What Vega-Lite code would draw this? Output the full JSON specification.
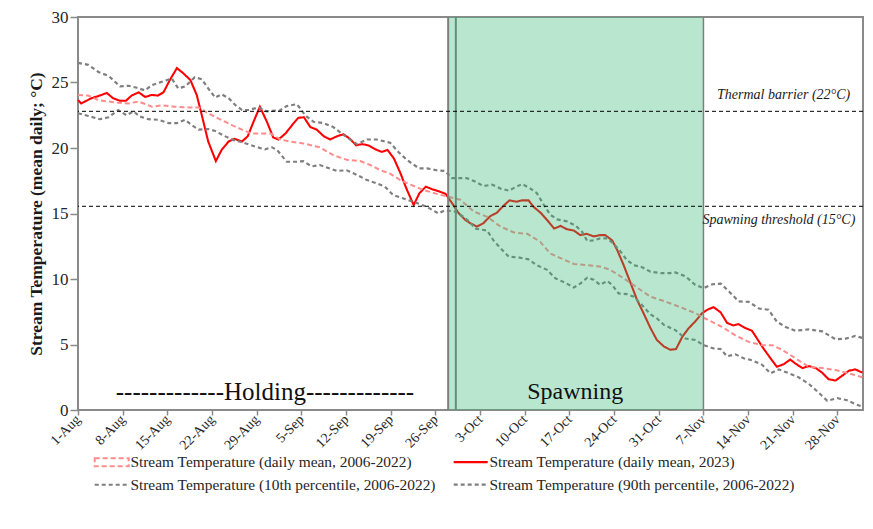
{
  "$schema": "https://vega.github.io/schema/vega-lite/v6.json",
  "width": 785,
  "height": 393,
  "autosize": {"type": "none"},
  "padding": {"left": 78, "top": 17, "right": 10, "bottom": 119},
  "background": "white",
  "config": {
    "font": "'Liberation Serif', 'Times New Roman', Times, serif",
    "view": {"stroke": "#8a8a8a", "strokeWidth": 2},
    "legend": {
      "orient": "none",
      "direction": "horizontal",
      "legendX": 26,
      "legendY": 437,
      "columns": 2,
      "columnPadding": 13,
      "rowPadding": 6,
      "labelFont": "'Liberation Serif', 'Times New Roman', Times, serif",
      "labelFontSize": 15.4,
      "labelColor": "#262626",
      "labelLimit": 400,
      "symbolSize": 100,
      "labelOffset": 11,
      "title": null
    }
  },
  "datasets": {
    "series": [
      {"s": "a", "d": 0, "t": 23.66}, {"s": "a", "d": 0.5, "t": 23.4}, {"s": "a", "d": 2.1, "t": 23.8}, {"s": "a", "d": 3.4, "t": 24.0}, {"s": "a", "d": 4.5, "t": 24.2}, {"s": "a", "d": 5.5, "t": 23.8}, {"s": "a", "d": 6.6, "t": 23.6}, {"s": "a", "d": 7.5, "t": 23.6}, {"s": "a", "d": 8.4, "t": 24.0}, {"s": "a", "d": 9.5, "t": 24.25}, {"s": "a", "d": 10.5, "t": 23.9}, {"s": "a", "d": 11.6, "t": 24.05}, {"s": "a", "d": 12.5, "t": 24.0}, {"s": "a", "d": 13.4, "t": 24.25}, {"s": "a", "d": 14.4, "t": 25.2}, {"s": "a", "d": 15.5, "t": 26.1}, {"s": "a", "d": 16.5, "t": 25.7}, {"s": "a", "d": 17.6, "t": 25.2}, {"s": "a", "d": 18.6, "t": 24.05}, {"s": "a", "d": 19.4, "t": 22.5}, {"s": "a", "d": 20.4, "t": 20.5}, {"s": "a", "d": 21.6, "t": 19.0}, {"s": "a", "d": 22.5, "t": 19.85}, {"s": "a", "d": 23.6, "t": 20.5}, {"s": "a", "d": 24.5, "t": 20.7}, {"s": "a", "d": 25.7, "t": 20.5}, {"s": "a", "d": 26.6, "t": 20.9}, {"s": "a", "d": 27.5, "t": 22.0}, {"s": "a", "d": 28.5, "t": 23.15}, {"s": "a", "d": 29.6, "t": 22.0}, {"s": "a", "d": 30.6, "t": 20.8}, {"s": "a", "d": 31.4, "t": 20.65}, {"s": "a", "d": 32.5, "t": 21.1}, {"s": "a", "d": 33.8, "t": 21.9}, {"s": "a", "d": 34.5, "t": 22.3}, {"s": "a", "d": 35.4, "t": 22.35}, {"s": "a", "d": 36.4, "t": 21.6}, {"s": "a", "d": 37.4, "t": 21.4}, {"s": "a", "d": 38.5, "t": 20.9}, {"s": "a", "d": 39.5, "t": 20.65}, {"s": "a", "d": 40.6, "t": 20.9}, {"s": "a", "d": 41.6, "t": 21.05}, {"s": "a", "d": 42.6, "t": 20.7}, {"s": "a", "d": 43.6, "t": 20.2}, {"s": "a", "d": 44.5, "t": 20.3}, {"s": "a", "d": 45.5, "t": 20.2}, {"s": "a", "d": 46.6, "t": 19.9}, {"s": "a", "d": 47.6, "t": 19.7}, {"s": "a", "d": 48.5, "t": 19.85}, {"s": "a", "d": 49.5, "t": 19.2}, {"s": "a", "d": 50.5, "t": 18.1}, {"s": "a", "d": 51.5, "t": 16.85}, {"s": "a", "d": 52.6, "t": 15.65}, {"s": "a", "d": 53.5, "t": 16.55}, {"s": "a", "d": 54.5, "t": 17.05}, {"s": "a", "d": 55.5, "t": 16.85}, {"s": "a", "d": 56.5, "t": 16.7}, {"s": "a", "d": 57.6, "t": 16.5}, {"s": "a", "d": 58.6, "t": 15.8}, {"s": "a", "d": 59.6, "t": 15.05}, {"s": "a", "d": 60.7, "t": 14.5}, {"s": "a", "d": 61.5, "t": 14.25}, {"s": "a", "d": 62.5, "t": 14.0}, {"s": "a", "d": 63.5, "t": 14.25}, {"s": "a", "d": 64.6, "t": 14.8}, {"s": "a", "d": 65.6, "t": 15.05}, {"s": "a", "d": 66.7, "t": 15.6}, {"s": "a", "d": 67.6, "t": 16.0}, {"s": "a", "d": 68.7, "t": 15.9}, {"s": "a", "d": 69.6, "t": 16.0}, {"s": "a", "d": 70.6, "t": 16.0}, {"s": "a", "d": 71.4, "t": 15.5}, {"s": "a", "d": 72.5, "t": 15.05}, {"s": "a", "d": 73.6, "t": 14.45}, {"s": "a", "d": 74.6, "t": 13.85}, {"s": "a", "d": 75.6, "t": 14.05}, {"s": "a", "d": 76.6, "t": 13.8}, {"s": "a", "d": 77.7, "t": 13.7}, {"s": "a", "d": 78.7, "t": 13.35}, {"s": "a", "d": 79.7, "t": 13.45}, {"s": "a", "d": 80.8, "t": 13.25}, {"s": "a", "d": 81.8, "t": 13.35}, {"s": "a", "d": 82.6, "t": 13.35}, {"s": "a", "d": 83.7, "t": 12.95}, {"s": "a", "d": 84.5, "t": 12.2}, {"s": "a", "d": 85.5, "t": 11.05}, {"s": "a", "d": 86.5, "t": 9.8}, {"s": "a", "d": 87.6, "t": 8.4}, {"s": "a", "d": 88.6, "t": 7.4}, {"s": "a", "d": 89.7, "t": 6.25}, {"s": "a", "d": 90.7, "t": 5.35}, {"s": "a", "d": 91.8, "t": 4.85}, {"s": "a", "d": 92.8, "t": 4.6}, {"s": "a", "d": 93.7, "t": 4.65}, {"s": "a", "d": 94.7, "t": 5.6}, {"s": "a", "d": 95.7, "t": 6.25}, {"s": "a", "d": 96.7, "t": 6.75}, {"s": "a", "d": 97.8, "t": 7.4}, {"s": "a", "d": 98.8, "t": 7.7}, {"s": "a", "d": 99.6, "t": 7.85}, {"s": "a", "d": 100.7, "t": 7.45}, {"s": "a", "d": 101.7, "t": 6.65}, {"s": "a", "d": 102.7, "t": 6.45}, {"s": "a", "d": 103.5, "t": 6.55}, {"s": "a", "d": 104.6, "t": 6.25}, {"s": "a", "d": 105.6, "t": 6.05}, {"s": "a", "d": 106.4, "t": 5.45}, {"s": "a", "d": 107.4, "t": 4.7}, {"s": "a", "d": 108.5, "t": 3.95}, {"s": "a", "d": 109.5, "t": 3.3}, {"s": "a", "d": 110.6, "t": 3.5}, {"s": "a", "d": 111.6, "t": 3.85}, {"s": "a", "d": 112.4, "t": 3.55}, {"s": "a", "d": 113.5, "t": 3.2}, {"s": "a", "d": 114.5, "t": 3.35}, {"s": "a", "d": 115.6, "t": 3.2}, {"s": "a", "d": 116.6, "t": 2.85}, {"s": "a", "d": 117.6, "t": 2.35}, {"s": "a", "d": 118.7, "t": 2.25}, {"s": "a", "d": 119.7, "t": 2.6}, {"s": "a", "d": 120.8, "t": 3.0}, {"s": "a", "d": 121.8, "t": 3.1}, {"s": "a", "d": 122.9, "t": 2.85},

      {"s": "m", "d": 0, "t": 24.05}, {"s": "m", "d": 1.6, "t": 24.0}, {"s": "m", "d": 3.2, "t": 23.65}, {"s": "m", "d": 4.8, "t": 23.55}, {"s": "m", "d": 6.3, "t": 23.45}, {"s": "m", "d": 7.9, "t": 23.4}, {"s": "m", "d": 9.5, "t": 23.55}, {"s": "m", "d": 11.6, "t": 23.15}, {"s": "m", "d": 13.1, "t": 23.25}, {"s": "m", "d": 15.2, "t": 23.15}, {"s": "m", "d": 17.3, "t": 23.1}, {"s": "m", "d": 18.9, "t": 23.1}, {"s": "m", "d": 20.4, "t": 22.65}, {"s": "m", "d": 22.0, "t": 22.25}, {"s": "m", "d": 24.1, "t": 21.75}, {"s": "m", "d": 25.7, "t": 21.4}, {"s": "m", "d": 27.2, "t": 21.1}, {"s": "m", "d": 28.8, "t": 21.1}, {"s": "m", "d": 30.2, "t": 21.1}, {"s": "m", "d": 31.7, "t": 20.65}, {"s": "m", "d": 33.2, "t": 20.5}, {"s": "m", "d": 35.3, "t": 20.35}, {"s": "m", "d": 37.9, "t": 20.05}, {"s": "m", "d": 40.0, "t": 19.45}, {"s": "m", "d": 42.1, "t": 19.1}, {"s": "m", "d": 44.2, "t": 19.0}, {"s": "m", "d": 45.8, "t": 18.7}, {"s": "m", "d": 47.4, "t": 18.3}, {"s": "m", "d": 48.9, "t": 18.05}, {"s": "m", "d": 50.5, "t": 17.55}, {"s": "m", "d": 52.1, "t": 17.2}, {"s": "m", "d": 54.1, "t": 16.8}, {"s": "m", "d": 56.2, "t": 16.5}, {"s": "m", "d": 57.8, "t": 16.3}, {"s": "m", "d": 59.9, "t": 16.05}, {"s": "m", "d": 62.0, "t": 15.15}, {"s": "m", "d": 64.1, "t": 14.75}, {"s": "m", "d": 66.2, "t": 14.0}, {"s": "m", "d": 68.3, "t": 13.55}, {"s": "m", "d": 70.4, "t": 13.45}, {"s": "m", "d": 72.4, "t": 12.85}, {"s": "m", "d": 74.0, "t": 11.95}, {"s": "m", "d": 75.6, "t": 11.6}, {"s": "m", "d": 77.7, "t": 11.15}, {"s": "m", "d": 79.8, "t": 11.05}, {"s": "m", "d": 81.8, "t": 10.95}, {"s": "m", "d": 83.4, "t": 10.7}, {"s": "m", "d": 85.5, "t": 10.05}, {"s": "m", "d": 87.6, "t": 9.35}, {"s": "m", "d": 89.7, "t": 8.65}, {"s": "m", "d": 91.3, "t": 8.4}, {"s": "m", "d": 93.6, "t": 8.0}, {"s": "m", "d": 96.7, "t": 7.4}, {"s": "m", "d": 98.8, "t": 6.85}, {"s": "m", "d": 100.9, "t": 6.35}, {"s": "m", "d": 103.0, "t": 5.7}, {"s": "m", "d": 105.1, "t": 5.2}, {"s": "m", "d": 107.2, "t": 4.95}, {"s": "m", "d": 108.8, "t": 4.95}, {"s": "m", "d": 110.3, "t": 4.6}, {"s": "m", "d": 112.4, "t": 3.95}, {"s": "m", "d": 114.5, "t": 3.3}, {"s": "m", "d": 116.6, "t": 3.2}, {"s": "m", "d": 118.7, "t": 3.05}, {"s": "m", "d": 120.8, "t": 2.8}, {"s": "m", "d": 122.9, "t": 2.5},

      {"s": "l", "d": 0, "t": 22.65}, {"s": "l", "d": 1.6, "t": 22.45}, {"s": "l", "d": 3.4, "t": 22.2}, {"s": "l", "d": 4.8, "t": 22.35}, {"s": "l", "d": 6.3, "t": 22.9}, {"s": "l", "d": 7.6, "t": 22.5}, {"s": "l", "d": 8.7, "t": 22.8}, {"s": "l", "d": 9.7, "t": 22.4}, {"s": "l", "d": 11.0, "t": 22.2}, {"s": "l", "d": 12.6, "t": 22.15}, {"s": "l", "d": 14.2, "t": 21.9}, {"s": "l", "d": 15.5, "t": 21.9}, {"s": "l", "d": 16.8, "t": 22.15}, {"s": "l", "d": 17.8, "t": 21.75}, {"s": "l", "d": 18.9, "t": 21.4}, {"s": "l", "d": 20.4, "t": 21.45}, {"s": "l", "d": 21.5, "t": 21.3}, {"s": "l", "d": 22.8, "t": 20.95}, {"s": "l", "d": 24.4, "t": 20.6}, {"s": "l", "d": 25.7, "t": 20.45}, {"s": "l", "d": 27.8, "t": 20.1}, {"s": "l", "d": 29.3, "t": 19.9}, {"s": "l", "d": 30.4, "t": 20.05}, {"s": "l", "d": 31.2, "t": 19.85}, {"s": "l", "d": 32.7, "t": 18.95}, {"s": "l", "d": 34.3, "t": 18.95}, {"s": "l", "d": 35.3, "t": 19.0}, {"s": "l", "d": 36.6, "t": 18.6}, {"s": "l", "d": 37.9, "t": 18.7}, {"s": "l", "d": 40.6, "t": 18.25}, {"s": "l", "d": 42.1, "t": 18.3}, {"s": "l", "d": 43.7, "t": 17.95}, {"s": "l", "d": 45.3, "t": 17.55}, {"s": "l", "d": 46.8, "t": 17.3}, {"s": "l", "d": 48.1, "t": 17.05}, {"s": "l", "d": 49.4, "t": 16.4}, {"s": "l", "d": 51.0, "t": 16.15}, {"s": "l", "d": 53.1, "t": 15.8}, {"s": "l", "d": 54.7, "t": 15.5}, {"s": "l", "d": 56.5, "t": 15.0}, {"s": "l", "d": 57.5, "t": 15.25}, {"s": "l", "d": 59.1, "t": 15.15}, {"s": "l", "d": 60.4, "t": 14.75}, {"s": "l", "d": 61.5, "t": 14.3}, {"s": "l", "d": 62.2, "t": 13.85}, {"s": "l", "d": 64.1, "t": 13.7}, {"s": "l", "d": 65.1, "t": 12.95}, {"s": "l", "d": 66.2, "t": 12.35}, {"s": "l", "d": 67.5, "t": 11.7}, {"s": "l", "d": 69.0, "t": 11.65}, {"s": "l", "d": 70.6, "t": 11.5}, {"s": "l", "d": 71.9, "t": 11.05}, {"s": "l", "d": 73.5, "t": 10.7}, {"s": "l", "d": 74.8, "t": 10.05}, {"s": "l", "d": 76.4, "t": 9.7}, {"s": "l", "d": 77.7, "t": 9.35}, {"s": "l", "d": 78.7, "t": 9.65}, {"s": "l", "d": 79.8, "t": 10.1}, {"s": "l", "d": 80.8, "t": 9.95}, {"s": "l", "d": 81.8, "t": 9.55}, {"s": "l", "d": 82.9, "t": 9.85}, {"s": "l", "d": 83.7, "t": 9.55}, {"s": "l", "d": 84.7, "t": 8.9}, {"s": "l", "d": 86.0, "t": 8.85}, {"s": "l", "d": 87.1, "t": 8.65}, {"s": "l", "d": 88.4, "t": 8.0}, {"s": "l", "d": 89.7, "t": 7.3}, {"s": "l", "d": 90.7, "t": 7.0}, {"s": "l", "d": 91.8, "t": 6.5}, {"s": "l", "d": 93.6, "t": 6.1}, {"s": "l", "d": 95.2, "t": 5.45}, {"s": "l", "d": 96.7, "t": 5.35}, {"s": "l", "d": 98.0, "t": 4.95}, {"s": "l", "d": 99.6, "t": 4.7}, {"s": "l", "d": 100.7, "t": 4.65}, {"s": "l", "d": 101.7, "t": 4.1}, {"s": "l", "d": 103.0, "t": 4.25}, {"s": "l", "d": 104.3, "t": 3.95}, {"s": "l", "d": 105.6, "t": 3.8}, {"s": "l", "d": 107.2, "t": 3.45}, {"s": "l", "d": 108.5, "t": 2.8}, {"s": "l", "d": 109.8, "t": 3.1}, {"s": "l", "d": 111.4, "t": 2.8}, {"s": "l", "d": 112.9, "t": 2.5}, {"s": "l", "d": 114.5, "t": 2.0}, {"s": "l", "d": 116.1, "t": 1.3}, {"s": "l", "d": 117.4, "t": 0.7}, {"s": "l", "d": 119.0, "t": 0.9}, {"s": "l", "d": 120.5, "t": 0.75}, {"s": "l", "d": 121.8, "t": 0.45}, {"s": "l", "d": 122.9, "t": 0.25},

      {"s": "h", "d": 0, "t": 26.5}, {"s": "h", "d": 1.6, "t": 26.35}, {"s": "h", "d": 3.2, "t": 25.8}, {"s": "h", "d": 4.8, "t": 25.5}, {"s": "h", "d": 6.6, "t": 24.7}, {"s": "h", "d": 7.9, "t": 24.75}, {"s": "h", "d": 9.2, "t": 24.6}, {"s": "h", "d": 10.5, "t": 24.4}, {"s": "h", "d": 11.6, "t": 24.8}, {"s": "h", "d": 13.1, "t": 25.05}, {"s": "h", "d": 14.7, "t": 25.3}, {"s": "h", "d": 15.7, "t": 24.55}, {"s": "h", "d": 16.8, "t": 24.7}, {"s": "h", "d": 18.3, "t": 25.4}, {"s": "h", "d": 19.4, "t": 25.25}, {"s": "h", "d": 20.4, "t": 24.55}, {"s": "h", "d": 21.5, "t": 23.85}, {"s": "h", "d": 22.5, "t": 24.1}, {"s": "h", "d": 23.6, "t": 23.8}, {"s": "h", "d": 24.6, "t": 23.3}, {"s": "h", "d": 25.7, "t": 22.9}, {"s": "h", "d": 26.7, "t": 22.9}, {"s": "h", "d": 28.3, "t": 23.1}, {"s": "h", "d": 29.6, "t": 22.8}, {"s": "h", "d": 30.9, "t": 22.85}, {"s": "h", "d": 31.4, "t": 22.8}, {"s": "h", "d": 32.7, "t": 23.2}, {"s": "h", "d": 34.3, "t": 23.35}, {"s": "h", "d": 35.6, "t": 22.5}, {"s": "h", "d": 36.9, "t": 22.0}, {"s": "h", "d": 38.5, "t": 21.9}, {"s": "h", "d": 40.0, "t": 21.6}, {"s": "h", "d": 41.6, "t": 21.0}, {"s": "h", "d": 43.7, "t": 20.3}, {"s": "h", "d": 45.3, "t": 20.65}, {"s": "h", "d": 46.8, "t": 20.65}, {"s": "h", "d": 48.9, "t": 20.4}, {"s": "h", "d": 50.2, "t": 19.7}, {"s": "h", "d": 51.5, "t": 19.1}, {"s": "h", "d": 53.4, "t": 18.45}, {"s": "h", "d": 54.7, "t": 18.45}, {"s": "h", "d": 56.2, "t": 18.3}, {"s": "h", "d": 57.5, "t": 18.25}, {"s": "h", "d": 58.6, "t": 17.7}, {"s": "h", "d": 60.9, "t": 17.7}, {"s": "h", "d": 62.2, "t": 17.45}, {"s": "h", "d": 63.5, "t": 17.1}, {"s": "h", "d": 64.9, "t": 17.2}, {"s": "h", "d": 66.2, "t": 16.9}, {"s": "h", "d": 67.5, "t": 16.75}, {"s": "h", "d": 68.5, "t": 17.0}, {"s": "h", "d": 69.6, "t": 17.25}, {"s": "h", "d": 70.9, "t": 16.9}, {"s": "h", "d": 71.9, "t": 16.55}, {"s": "h", "d": 73.0, "t": 15.65}, {"s": "h", "d": 74.0, "t": 14.9}, {"s": "h", "d": 75.1, "t": 14.55}, {"s": "h", "d": 76.6, "t": 14.4}, {"s": "h", "d": 77.9, "t": 14.1}, {"s": "h", "d": 79.0, "t": 13.6}, {"s": "h", "d": 79.8, "t": 12.9}, {"s": "h", "d": 80.8, "t": 12.95}, {"s": "h", "d": 81.8, "t": 13.1}, {"s": "h", "d": 82.9, "t": 13.1}, {"s": "h", "d": 83.9, "t": 12.7}, {"s": "h", "d": 85.0, "t": 12.1}, {"s": "h", "d": 86.0, "t": 11.45}, {"s": "h", "d": 87.1, "t": 11.05}, {"s": "h", "d": 88.4, "t": 10.9}, {"s": "h", "d": 89.7, "t": 10.55}, {"s": "h", "d": 91.3, "t": 10.45}, {"s": "h", "d": 92.8, "t": 10.45}, {"s": "h", "d": 93.6, "t": 10.5}, {"s": "h", "d": 95.2, "t": 10.2}, {"s": "h", "d": 96.7, "t": 9.55}, {"s": "h", "d": 98.0, "t": 9.3}, {"s": "h", "d": 99.4, "t": 9.6}, {"s": "h", "d": 100.7, "t": 9.65}, {"s": "h", "d": 102.0, "t": 9.05}, {"s": "h", "d": 103.5, "t": 8.3}, {"s": "h", "d": 105.1, "t": 8.25}, {"s": "h", "d": 106.7, "t": 7.75}, {"s": "h", "d": 108.2, "t": 7.65}, {"s": "h", "d": 109.5, "t": 6.75}, {"s": "h", "d": 110.8, "t": 6.35}, {"s": "h", "d": 112.4, "t": 6.05}, {"s": "h", "d": 114.5, "t": 6.15}, {"s": "h", "d": 116.6, "t": 6.0}, {"s": "h", "d": 118.7, "t": 5.4}, {"s": "h", "d": 120.3, "t": 5.45}, {"s": "h", "d": 121.8, "t": 5.65}, {"s": "h", "d": 122.9, "t": 5.5}
    ],
    "phases": [{"start": 58, "end": 98}],
    "labels": [
      {"d": 29.3, "t": 1.4, "label": "-------------Holding-------------", "size": 25},
      {"d": 77.9, "t": 1.4, "label": "Spawning", "size": 24}
    ],
    "notes": [
      {"d": 121.0, "t": 24.05, "label": "Thermal barrier (22°C)"},
      {"d": 121.8, "t": 14.5, "label": "Spawning threshold (15°C)"}
    ]
  },
  "layer": [
    {
      "data": {"name": "series"},
      "mark": {"type": "line", "strokeCap": "butt"},
      "encoding": {
        "x": {
          "field": "d", "type": "quantitative",
          "scale": {"domain": [0, 123], "nice": false, "zero": false},
          "axis": {
            "title": null, "grid": false, "domain": false,
            "values": [0, 7, 14, 21, 28, 35, 42, 49, 56, 63, 70, 77, 84, 91, 98, 105, 112, 119],
            "labelExpr": "timeFormat(datetime(2023, 7, 1 + datum.value), '%-d-%b')",
            "labelAngle": -45, "labelAlign": "right", "labelBaseline": "middle",
            "labelFontSize": 14, "labelColor": "#262626",
            "labelPadding": 2, "labelOverlap": false,
            "tickColor": "#8a8a8a", "tickSize": 5, "tickWidth": 1.5
          }
        },
        "y": {
          "field": "t", "type": "quantitative",
          "scale": {"domain": [0, 30], "nice": false},
          "axis": {
            "title": "Stream Temperature (mean daily; °C)",
            "titleFontSize": 17.5, "titleFontWeight": "bold", "titleColor": "#1a1a1a",
            "titlePadding": 6,
            "grid": false, "domain": false,
            "values": [0, 5, 10, 15, 20, 25, 30],
            "labelFontSize": 17, "labelColor": "#262626", "labelPadding": 2,
            "tickColor": "#8a8a8a", "tickSize": 8, "tickWidth": 1.5
          }
        },
        "detail": {"field": "s"},
        "color": {
          "field": "s", "type": "nominal",
          "scale": {"domain": ["m", "a", "l", "h"], "range": ["#ff8c8c", "#ff0000", "#7f7f7f", "#7f7f7f"]},
          "legend": {
            "labelExpr": "{'m': 'Stream Temperature (daily mean, 2006-2022)', 'a': 'Stream Temperature (daily mean, 2023)', 'l': 'Stream Temperature (10th percentile, 2006-2022)', 'h': 'Stream Temperature (90th percentile, 2006-2022)'}[datum.value]",
            "encode": {"symbols": {"update": {"shape": {"signal": "datum.value === 'm' ? 'M-3.4,-0.8H3.4V0.8H-3.4Z' : 'M-3.4,0H3.4'"}}}}
          }
        },
        "strokeDash": {
          "field": "s", "type": "nominal",
          "scale": {"domain": ["m", "a", "l", "h"], "range": [[5, 3], [1, 0], [4, 3], [4, 3]]},
          "legend": {
            "labelExpr": "{'m': 'Stream Temperature (daily mean, 2006-2022)', 'a': 'Stream Temperature (daily mean, 2023)', 'l': 'Stream Temperature (10th percentile, 2006-2022)', 'h': 'Stream Temperature (90th percentile, 2006-2022)'}[datum.value]",
            "encode": {"symbols": {"update": {"shape": {"signal": "datum.value === 'm' ? 'M-3.4,-0.8H3.4V0.8H-3.4Z' : 'M-3.4,0H3.4'"}}}}
          }
        },
        "strokeWidth": {
          "field": "s", "type": "nominal",
          "scale": {"domain": ["m", "a", "l", "h"], "range": [2, 2.2, 1.6, 1.6]},
          "legend": {
            "labelExpr": "{'m': 'Stream Temperature (daily mean, 2006-2022)', 'a': 'Stream Temperature (daily mean, 2023)', 'l': 'Stream Temperature (10th percentile, 2006-2022)', 'h': 'Stream Temperature (90th percentile, 2006-2022)'}[datum.value]",
            "encode": {"symbols": {"update": {"shape": {"signal": "datum.value === 'm' ? 'M-3.4,-0.8H3.4V0.8H-3.4Z' : 'M-3.4,0H3.4'"}}}}
          }
        }
      }
    },
    {
      "data": {"name": "phases"},
      "mark": {"type": "rule", "color": "#7a7a7a", "strokeWidth": 2},
      "encoding": {"x": {"datum": 59.2}}
    },
    {
      "data": {"name": "phases"},
      "mark": {"type": "rect", "color": "#34b876", "opacity": 0.35},
      "encoding": {
        "x": {"field": "start", "type": "quantitative"},
        "x2": {"field": "end"},
        "y": {"datum": 30},
        "y2": {"datum": 0}
      }
    },
    {
      "data": {"name": "phases"},
      "mark": {"type": "rule", "color": "#7f7f7f", "strokeWidth": 2},
      "encoding": {"x": {"field": "start", "type": "quantitative"}}
    },
    {
      "data": {"name": "phases"},
      "mark": {"type": "rule", "color": "#7f7f7f", "strokeWidth": 1.5},
      "encoding": {"x": {"field": "end", "type": "quantitative"}}
    },
    {
      "data": {"name": "phases"},
      "mark": {"type": "rule", "color": "black", "strokeWidth": 1, "strokeDash": [4, 3]},
      "encoding": {"y": {"datum": 22.8}}
    },
    {
      "data": {"name": "phases"},
      "mark": {"type": "rule", "color": "black", "strokeWidth": 1, "strokeDash": [4, 3]},
      "encoding": {"y": {"datum": 15.55}}
    },
    {
      "data": {"name": "notes"},
      "mark": {"type": "text", "align": "right", "baseline": "middle", "fontStyle": "italic", "fontSize": 14, "color": "#1a1a1a"},
      "encoding": {
        "x": {"field": "d", "type": "quantitative"},
        "y": {"field": "t", "type": "quantitative"},
        "text": {"field": "label"}
      }
    },
    {
      "data": {"name": "labels"},
      "mark": {"type": "text", "align": "center", "baseline": "middle", "color": "#111111"},
      "encoding": {
        "x": {"field": "d", "type": "quantitative"},
        "y": {"field": "t", "type": "quantitative"},
        "text": {"field": "label"},
        "size": {"field": "size", "type": "quantitative", "scale": null}
      }
    }
  ]
}
